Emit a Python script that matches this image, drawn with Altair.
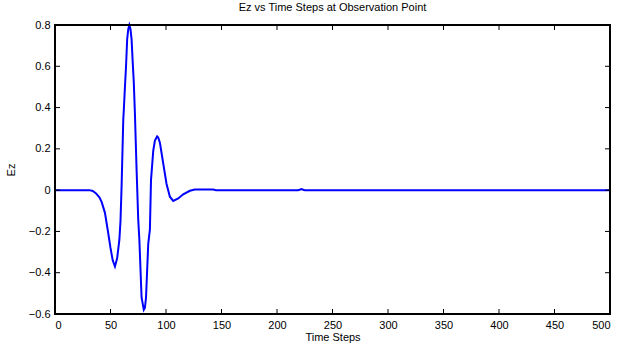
import altair as alt
import pandas as pd

# Time steps and Ez values
t = [0, 20, 31, 34, 37, 40, 42, 45, 48, 50, 52, 54, 56, 58, 59, 60, 61.5, 62, 63, 64, 65, 66, 67, 68,
     69, 70, 71, 72, 73.5, 75, 76, 78, 80, 81, 82, 84, 85.5, 86.5, 88.5, 90, 92, 93, 94.5, 96, 97.5,
     100.5, 103.5, 106.5, 111, 115.5, 121.5, 126, 142.5, 145, 200, 219, 221, 222, 223, 225, 300, 400, 500]
ez = [0, 0, 0, -0.004, -0.016, -0.035, -0.057, -0.11, -0.21, -0.28, -0.34, -0.37, -0.33, -0.24, -0.15,
      0.02, 0.34, 0.39, 0.5, 0.6, 0.73, 0.78, 0.8, 0.78, 0.73, 0.62, 0.52, 0.37, 0.1, -0.145, -0.24,
      -0.52, -0.58, -0.57, -0.52, -0.26, -0.19, 0.05, 0.19, 0.24, 0.26, 0.255, 0.23, 0.18, 0.13,
      0.03, -0.032, -0.052, -0.04, -0.02, -0.003, 0.003, 0.003, 0, 0, 0, 0.003, 0.005, 0.003, 0, 0, 0, 0]

x_ticks = [0, 50, 100, 150, 200, 250, 300, 350, 400, 450, 500]
y_ticks = [-0.6, -0.4, -0.2, 0, 0.2, 0.4, 0.6, 0.8]

W, H = 555, 289
FONT = "Liberation Sans"

df = pd.DataFrame({"t": t, "ez": ez})
dxt = pd.DataFrame({"v": x_ticks})
dyt = pd.DataFrame({"v": y_ticks})

xs = alt.Scale(domain=[0, 500], nice=False, zero=False)
ys = alt.Scale(domain=[-0.6, 0.8], nice=False, zero=False)

common = dict(ticks=False, grid=False, domain=False, labelFont=FONT, titleFont=FONT,
              labelFontSize=11, titleFontSize=11, labelColor="black", titleColor="black",
              titleFontWeight="normal")

line = alt.Chart(df).mark_line(color="#0000ff", strokeWidth=2).encode(
    x=alt.X("t:Q", scale=xs, title="Time Steps",
            axis=alt.Axis(values=x_ticks, labelPadding=5, titlePadding=1, format="d", **common)),
    y=alt.Y("ez:Q", scale=ys, title="Ez",
            axis=alt.Axis(values=y_ticks, labelPadding=5, titlePadding=12,
                          labelExpr="datum.value == 0 ? '0' : format(datum.value, '.1f')", **common)),
)

frame = alt.Chart(dxt).mark_rect(fill=None, stroke="black", strokeWidth=1.5).encode(
    x=alt.value(0), x2=alt.value(W), y=alt.value(0), y2=alt.value(H))

xb = alt.Chart(dxt).mark_rule(color="black", strokeWidth=1).encode(
    x=alt.X("v:Q", scale=xs), y=alt.value(H), y2=alt.value(H - 5))
xt = alt.Chart(dxt).mark_rule(color="black", strokeWidth=1).encode(
    x=alt.X("v:Q", scale=xs), y=alt.value(0), y2=alt.value(5))
yl = alt.Chart(dyt).mark_rule(color="black", strokeWidth=1).encode(
    y=alt.Y("v:Q", scale=ys), x=alt.value(0), x2=alt.value(5))
yr = alt.Chart(dyt).mark_rule(color="black", strokeWidth=1).encode(
    y=alt.Y("v:Q", scale=ys), x=alt.value(W), x2=alt.value(W - 5))

chart = alt.layer(line, xb, xt, yl, yr, frame).properties(
    width=W, height=H,
    title=alt.TitleParams("Ez vs Time Steps at Observation Point", fontSize=11, fontWeight="normal",
                          font=FONT, anchor="middle", offset=6, color="black"),
    autosize=alt.AutoSizeParams(type="none"),
    padding={"left": 55, "top": 25, "right": 24, "bottom": 31},
).configure_view(stroke=None).configure(background="white")

chart.save("out.html", embed_options={"renderer": "svg", "actions": False})
